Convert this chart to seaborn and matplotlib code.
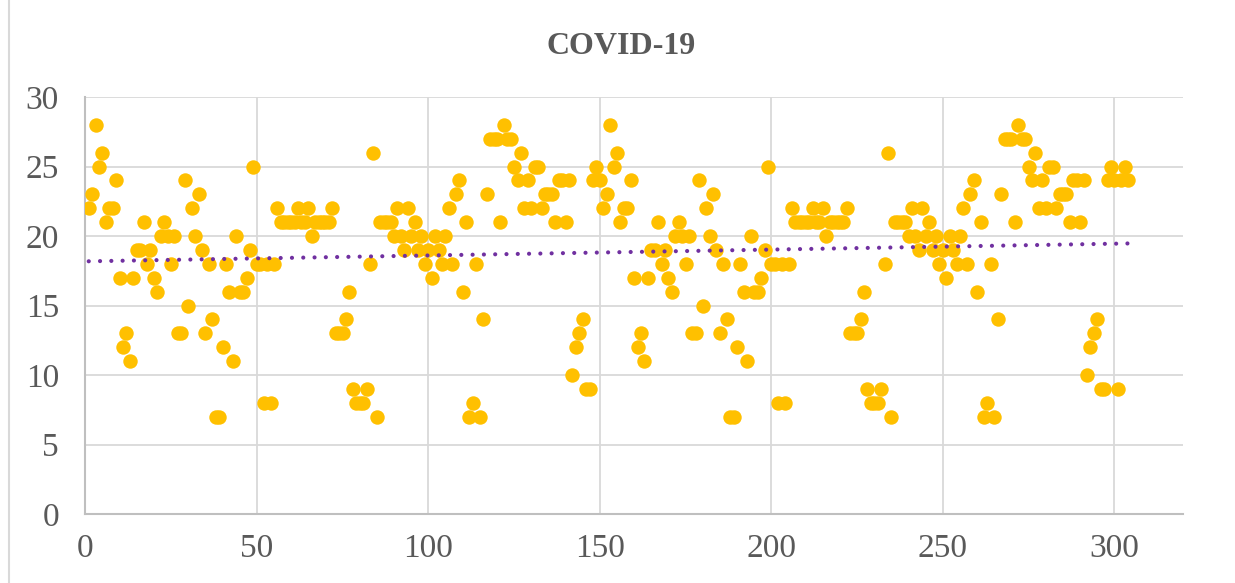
import numpy as np
import pandas as pd
import matplotlib
matplotlib.use("Agg")
import matplotlib.pyplot as plt
from matplotlib.patches import Rectangle
import seaborn as sns

# ---- data ----
days = list(range(1, 305))
cases = [
    22, 23, 28, 25, 26, 21, 22, 22, 24, 17,
    12, 13, 11, 17, 19, 19, 21, 18, 19, 17,
    16, 20, 21, 20, 18, 20, 13, 13, 24, 15,
    22, 20, 23, 19, 13, 18, 14, 7, 7, 12,
    18, 16, 11, 20, 16, 16, 17, 19, 25, 18,
    18, 8, 18, 8, 18, 22, 21, 21, 21, 21,
    21, 22, 21, 21, 22, 20, 21, 21, 21, 21,
    21, 22, 13, 13, 13, 14, 16, 9, 8, 8,
    8, 9, 18, 26, 7, 21, 21, 21, 21, 20,
    22, 20, 19, 22, 20, 21, 19, 20, 18, 19,
    17, 20, 19, 18, 20, 22, 18, 23, 24, 16,
    21, 7, 8, 18, 7, 14, 23, 27, 27, 27,
    21, 28, 27, 27, 25, 24, 26, 22, 24, 22,
    25, 25, 22, 23, 23, 23, 21, 24, 24, 21,
    24, 10, 12, 13, 14, 9, 9, 24, 25, 24,
    22, 23, 28, 25, 26, 21, 22, 22, 24, 17,
    12, 13, 11, 17, 19, 19, 21, 18, 19, 17,
    16, 20, 21, 20, 18, 20, 13, 13, 24, 15,
    22, 20, 23, 19, 13, 18, 14, 7, 7, 12,
    18, 16, 11, 20, 16, 16, 17, 19, 25, 18,
    18, 8, 18, 8, 18, 22, 21, 21, 21, 21,
    21, 22, 21, 21, 22, 20, 21, 21, 21, 21,
    21, 22, 13, 13, 13, 14, 16, 9, 8, 8,
    8, 9, 18, 26, 7, 21, 21, 21, 21, 20,
    22, 20, 19, 22, 20, 21, 19, 20, 18, 19,
    17, 20, 19, 18, 20, 22, 18, 23, 24, 16,
    21, 7, 8, 18, 7, 14, 23, 27, 27, 27,
    21, 28, 27, 27, 25, 24, 26, 22, 24, 22,
    25, 25, 22, 23, 23, 23, 21, 24, 24, 21,
    24, 10, 12, 13, 14, 9, 9, 24, 25, 24,
    9, 24, 25, 24,
]
x_ticks = [0, 50, 100, 150, 200, 250, 300]
y_ticks = [0, 5, 10, 15, 20, 25, 30]
title = "COVID-19"

df = pd.DataFrame({"day": days, "value": cases})

sns.set_theme(style="white")
plt.rcParams["font.family"] = ["Liberation Serif", "DejaVu Serif"]

text_color = "#595959"
grid_color = "#d9d9d9"

fig = plt.figure(figsize=(12.35, 5.83), dpi=100)
ax = fig.add_axes([85.3 / 1235, 1 - 514 / 583, (1183 - 85.3) / 1235, (514 - 97) / 583])

sns.scatterplot(data=df, x="day", y="value", ax=ax, color="#FFC000",
                s=108, linewidth=0, zorder=3, legend=False)
sns.regplot(data=df, x="day", y="value", ax=ax, scatter=False, ci=None,
            line_kws=dict(color="#7030A0", linewidth=3.0,
                          linestyle=(0, (0.01, 2.7)),
                          dash_capstyle="round", zorder=4))

ax.set_xlim(0, 320)
ax.set_ylim(0, 30)
ax.set_xticks(x_ticks)
ax.set_yticks(y_ticks)
ax.set_xlabel("")
ax.set_ylabel("")
ax.grid(True, color=grid_color, linewidth=1.3)
ax.set_axisbelow(True)
for s in ["top", "right"]:
    ax.spines[s].set_visible(False)
for s in ["left", "bottom"]:
    ax.spines[s].set_color("#bfbfbf")
    ax.spines[s].set_linewidth(1.5)
ax.tick_params(axis="both", length=0, labelsize=24, labelcolor=text_color)
ax.tick_params(axis="x", pad=14)
ax.tick_params(axis="y", pad=19)

fig.text(0.503, 1 - 46 / 583, title, ha="center", va="center",
         fontsize=23, fontweight="bold", color=text_color)

fig.patches.append(Rectangle((8.5 / 1235, -0.2), 1.2, 1.2 + (1 - 4.5 / 583),
                             transform=fig.transFigure, fill=False,
                             edgecolor=grid_color, linewidth=1.5))

fig.savefig("out.png", dpi=100)
